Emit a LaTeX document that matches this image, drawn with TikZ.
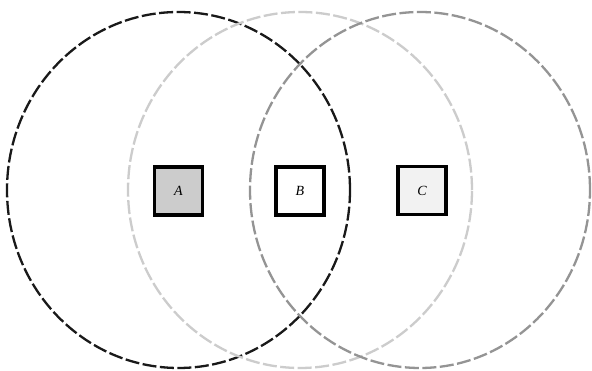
\documentclass[tikz,border=0pt]{standalone}
\usepackage{fontspec}
\setmainfont{Liberation Serif}
\begin{document}
\begin{tikzpicture}[x=1pt,y=1pt,
  ring/.style={line width=2.3pt, dash pattern=on 14pt off 3.5pt},
  box/.style={draw=black, line width=3.2pt, minimum width=48pt, minimum height=48pt, inner sep=0pt, font=\itshape\fontsize{14}{16}\selectfont}]
\useasboundingbox (0,0) rectangle (592,371);
\fill[white] (0,0) rectangle (592,371);
\draw[ring, draw=black!90] (178.5,181) ellipse [x radius=171.5, y radius=178];
\draw[ring, draw=black!20] (300,181) ellipse [x radius=172, y radius=178];
\draw[ring, draw=black!42] (420,181) ellipse [x radius=170, y radius=178];
\node[box, fill=black!20] (A) at (178.5,180) {A};
\node[box, fill=white] (B) at (300,180) {B};
\node[box, fill=black!5] (C) at (422,180.5) {C};
\end{tikzpicture}
\end{document}
